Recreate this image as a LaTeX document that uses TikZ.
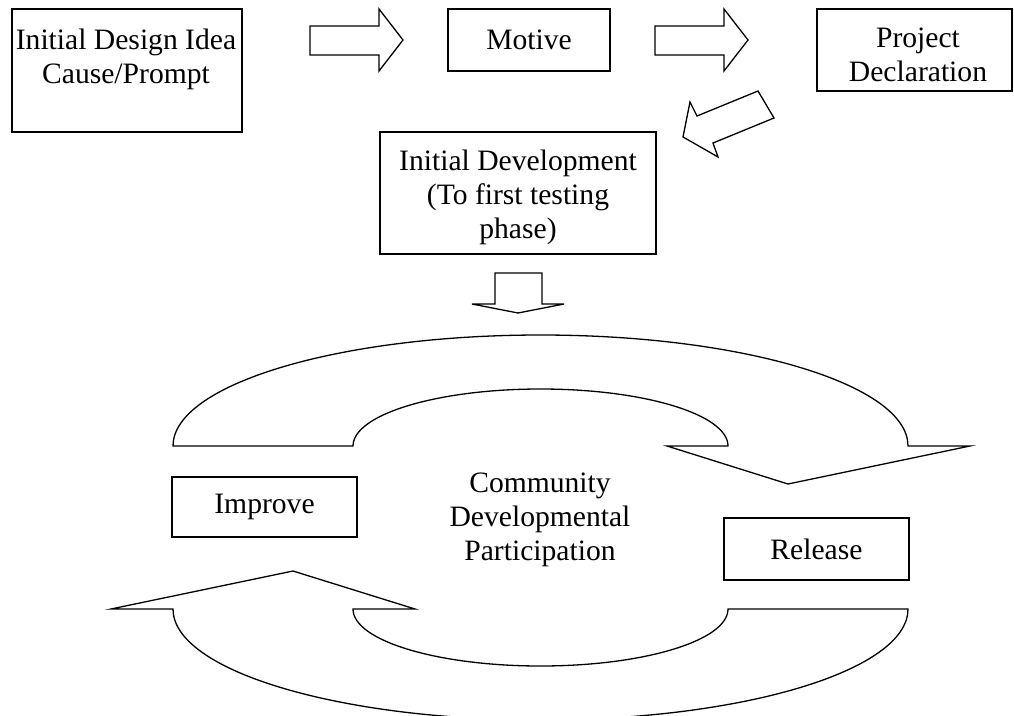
\documentclass[tikz,border=0pt]{standalone}
\usepackage{fontspec}
\setmainfont{Liberation Serif}

\begin{document}
\begin{tikzpicture}[x=1pt, y=-1pt,
    box/.style={draw, line width=1.6pt, font=\fontsize{29.6}{34}\selectfont, align=center},
    lbl/.style={font=\fontsize{29.6}{34}\selectfont, align=center},
    blockarrow/.style={draw, line width=1.3pt, line join=miter}]
    \useasboundingbox (0,0) rectangle (1014,715);
    \node[box, minimum width=230, minimum height=123] (design) at (127,70.5) {};
    \node[lbl] (designtext) at (126,59) {Initial Design Idea\\Cause/Prompt};
    \node[box, minimum width=162, minimum height=62] (motive) at (529,40) {Motive};
    \node[box, minimum width=195, minimum height=82] (project) at (914.5,50) {};
    \node[lbl] (projecttext) at (918,55) {Project\\Declaration};
    \node[box, minimum width=276, minimum height=122] (initdev) at (518,193) {};
    \node[lbl] (initdevtext) at (518,197) {Initial Development\\(To first testing\\phase)};
    \node[box, minimum width=185, minimum height=60] (improve) at (264.5,507) {Improve};
    \node[box, minimum width=185, minimum height=62] (release) at (816.5,549) {Release};
    \node[lbl] (community) at (540,520) {Community\\Developmental\\Participation};
    \draw[blockarrow] (310,26) -- (379,26) -- (379,9) -- (403,40) -- (379,71) -- (379,55) -- (310,55) -- cycle;
    \draw[blockarrow] (655,26) -- (724,26) -- (724,9) -- (748,40) -- (724,71) -- (724,55) -- (655,55) -- cycle;
    \draw[blockarrow] (758,91) -- (774,118) -- (713,143) -- (718,157) -- (683,137) -- (690,102) -- (697,116) -- cycle;
    \draw[blockarrow] (495,273) -- (542,273) -- (542,304) -- (564,304) -- (518,313) -- (472,304) -- (495,304) -- cycle;
    \draw[blockarrow] (173,446) arc[start angle=180, end angle=360, x radius=367.5, y radius=111]
      -- (970,446) -- (788,484) -- (667,446) -- (728,446)
      arc[start angle=360, end angle=180, x radius=187.5, y radius=57] -- cycle;
    \draw[blockarrow] (908,609) arc[start angle=0, end angle=180, x radius=367.5, y radius=111]
      -- (111,609) -- (293,571) -- (415,609) -- (353,609)
      arc[start angle=180, end angle=0, x radius=187.5, y radius=57] -- cycle;
\end{tikzpicture}
\end{document}
